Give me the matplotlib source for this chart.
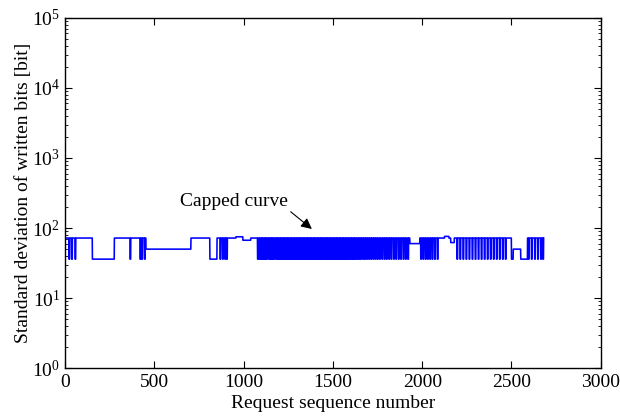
import numpy as np
import matplotlib.pyplot as plt
from matplotlib.ticker import LogLocator, MultipleLocator

plt.rcParams['font.family'] = 'Liberation Serif'
plt.rcParams['mathtext.fontset'] = 'custom'
plt.rcParams['mathtext.rm'] = 'Liberation Serif'
plt.rcParams['mathtext.it'] = 'Liberation Serif:italic'

# Niveles del desvío (bits) y número de peticiones
n_requests = 2681
low_level = 36

# Tramos escalonados: (inicio, nivel)
run_start = [0, 153, 276, 453, 705, 811, 851, 957, 996, 1040, 1931, 1987,
             2110, 2125, 2150, 2160, 2180, 2480, 2500, 2510, 2552, 2590]
run_level = [72, 36, 72, 50, 72, 36, 72, 75, 67, 72, 60, 72,
             72, 76, 72, 62, 72, 72, 36, 50, 36, 72]

# Inicio de cada caída breve hasta el nivel bajo
dips_start = [22, 37, 56, 364, 420, 430, 445, 868, 882, 895, 905,
              1078, 1088, 1097, 1104, 1113, 1121, 1128, 1139, 1146, 1155,
              1162, 1170, 1181, 1188, 1196, 1203, 1212, 1220, 1229, 1236,
              1245, 1251, 1259, 1268, 1277, 1284, 1292, 1301, 1309, 1316,
              1325, 1333, 1340, 1349, 1357, 1364, 1372, 1380, 1388, 1396,
              1403, 1411, 1420, 1427, 1435, 1443, 1452, 1460, 1468, 1476,
              1484, 1493, 1501, 1509, 1517, 1526, 1534, 1542, 1551, 1559,
              1567, 1576, 1585, 1594, 1603, 1612, 1621, 1631, 1640, 1650,
              1660, 1671, 1681, 1692, 1703, 1714, 1726, 1738, 1750, 1762,
              1775, 1788, 1800, 1813, 1826, 1840, 1853, 1867, 1880, 1894,
              1907, 1920,
              1992, 2005, 2018, 2030, 2043, 2056, 2070, 2085,
              2195, 2212, 2229, 2246, 2263, 2280, 2297, 2314, 2331, 2348,
              2365, 2382, 2399, 2416, 2433, 2450, 2466,
              2595, 2612, 2630, 2647, 2664, 2676]
dip_len = 4

# Construir la serie a partir de los tramos y caídas
x = np.arange(n_requests)
idx = np.searchsorted(run_start, x, side='right') - 1
y = np.array(run_level, dtype=float)[idx]
for d in dips_start:
    y[d:d + dip_len] = low_level

fig = plt.figure(figsize=(6.2, 4.16), dpi=100)
ax = fig.add_axes([0.105, 0.115, 0.864, 0.842])

ax.plot(x, y, color='#0000ff', lw=1.15)

ax.set_yscale('log')
ax.set_xlim(0, 3000)
ax.set_ylim(1, 1e5)
ax.xaxis.set_major_locator(MultipleLocator(500))
ax.yaxis.set_major_locator(LogLocator(base=10, numticks=10))
ax.yaxis.set_minor_locator(LogLocator(base=10, subs=np.arange(2, 10), numticks=10))

ax.tick_params(which='both', direction='in', top=True, right=True, labelsize=14)
ax.tick_params(which='major', length=5, width=0.8)
ax.tick_params(which='minor', length=2.5, width=0.6)
ax.tick_params(axis='x', pad=4)
for s in ax.spines.values():
    s.set_linewidth(1.0)

ax.set_xlabel('Request sequence number', fontsize=14, labelpad=3)
ax.set_ylabel('Standard deviation of written bits [bit]', fontsize=14, labelpad=0)

ax.annotate('Capped curve', xy=(1382, 97), xytext=(946, 243),
            fontsize=14, ha='center', va='center',
            arrowprops=dict(arrowstyle='-|>', color='black', lw=0.8,
                            mutation_scale=16, relpos=(1.0, 0.0),
                            shrinkA=0, shrinkB=0))

fig.savefig('out.png', dpi=100)
